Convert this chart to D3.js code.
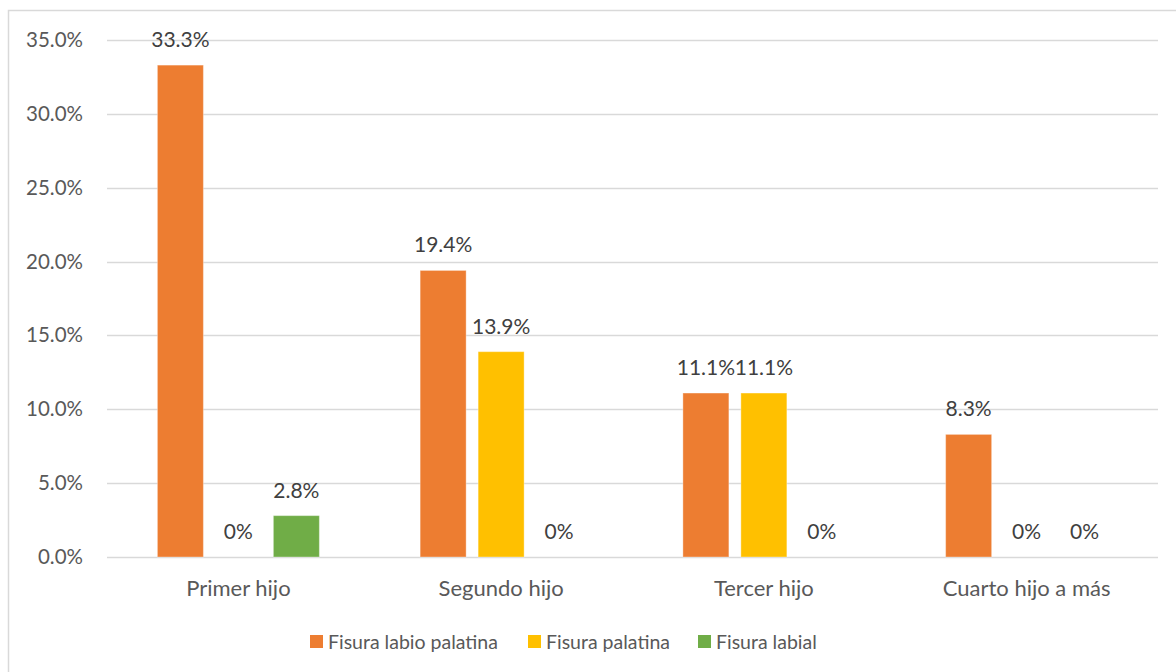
<!DOCTYPE html>
<html>
<head>
<meta charset="utf-8">
<script src="https://cdn.jsdelivr.net/npm/d3@7/dist/d3.min.js"></script>
<style>
  html, body { margin: 0; padding: 0; background: #fff; }
  svg { display: block; font-family: Lato, "Noto Sans", sans-serif; }
</style>
</head>
<body>
<svg id="chart" width="1176" height="672"></svg>
<script>
// Birth order categories and the share of each cleft type
const categories = ["Primer hijo", "Segundo hijo", "Tercer hijo", "Cuarto hijo a más"];
const seriesNames = ["Fisura labio palatina", "Fisura palatina", "Fisura labial"];
const labioPalatina = [33.3, 19.4, 11.1, 8.3];
const palatina = [0, 13.9, 11.1, 0];
const labial = [2.8, 0, 0, 0];
const seriesColors = ["#ED7D31", "#FFC000", "#70AD47"];
const yTicks = [0, 5, 10, 15, 20, 25, 30, 35];

const seriesValues = [labioPalatina, palatina, labial];

const svg = d3.select("#chart");
const W = 1176, H = 672;

// Outer frame
svg.append("rect")
  .attr("x", 8.5).attr("y", 10.5)
  .attr("width", W + 10).attr("height", H + 10)
  .attr("fill", "none").attr("stroke", "#D9D9D9").attr("stroke-width", 1.5);

const plot = { left: 107, right: 1158, top: 40, bottom: 557 };

const y = d3.scaleLinear().domain([0, 35]).range([plot.bottom, plot.top]);
const x0 = d3.scaleBand().domain(categories).range([plot.left, plot.right]).padding(0);
const x1 = d3.scaleBand().domain(seriesNames).range([0, x0.bandwidth()])
  .paddingInner(12 / 58).paddingOuter(0.869);

// Gridlines
svg.append("g")
  .selectAll("line")
  .data(yTicks)
  .join("line")
  .attr("x1", plot.left).attr("x2", plot.right)
  .attr("y1", d => Math.round(y(d)) + 0.5).attr("y2", d => Math.round(y(d)) + 0.5)
  .attr("stroke", "#D9D9D9").attr("stroke-width", 1.5);

// Y axis labels
const yAxis = d3.axisLeft(y).tickValues(yTicks).tickFormat(d => d.toFixed(1) + "%").tickSize(0).tickPadding(0);
svg.append("g")
  .attr("transform", `translate(83,0)`)
  .call(yAxis)
  .call(g => g.select(".domain").remove())
  .call(g => g.selectAll("text")
    .attr("fill", "#595959").attr("font-size", 20.5)
    .attr("font-family", "Lato, 'Noto Sans', sans-serif"));

// X axis labels
const xAxis = d3.axisBottom(x0).tickSize(0).tickPadding(0);
svg.append("g")
  .attr("transform", `translate(0,${plot.bottom})`)
  .call(xAxis)
  .call(g => g.select(".domain").remove())
  .call(g => g.selectAll("text")
    .attr("fill", "#595959").attr("font-size", 22)
    .attr("font-family", "Lato, 'Noto Sans', sans-serif")
    .attr("dy", null).attr("y", 39));

// Bars and data labels
const rows = categories.map((c, i) => ({
  cat: c,
  vals: seriesNames.map((s, j) => ({ s, j, v: seriesValues[j][i] }))
}));

const groups = svg.append("g").selectAll("g")
  .data(rows).join("g")
  .attr("transform", d => `translate(${x0(d.cat)},0)`);

groups.selectAll("rect")
  .data(d => d.vals.filter(v => v.v > 0))
  .join("rect")
  .attr("x", d => x1(d.s))
  .attr("width", x1.bandwidth())
  .attr("y", d => y(d.v))
  .attr("height", d => y(0) - y(d.v))
  .attr("fill", d => seriesColors[d.j])
  .attr("stroke", "#fff").attr("stroke-opacity", 0.35).attr("stroke-width", 1);

groups.selectAll("text")
  .data(d => d.vals)
  .join("text")
  .attr("x", d => x1(d.s) + x1.bandwidth() / 2)
  .attr("y", d => y(d.v) - 18)
  .attr("text-anchor", "middle")
  .attr("font-size", 21)
  .attr("fill", "#404040")
  .text(d => d.v === 0 ? "0%" : d.v.toFixed(1) + "%");

// Legend
const legendX = [310, 528, 698];
const legend = svg.append("g").selectAll("g")
  .data(seriesNames).join("g")
  .attr("transform", (d, i) => `translate(${legendX[i]},635)`);
legend.append("rect")
  .attr("width", 13).attr("height", 13)
  .attr("fill", (d, i) => seriesColors[i]);
legend.append("text")
  .attr("x", 18).attr("y", 13.5)
  .attr("font-size", 19.5).attr("fill", "#595959")
  .text(d => d);
</script>
</body>
</html>
